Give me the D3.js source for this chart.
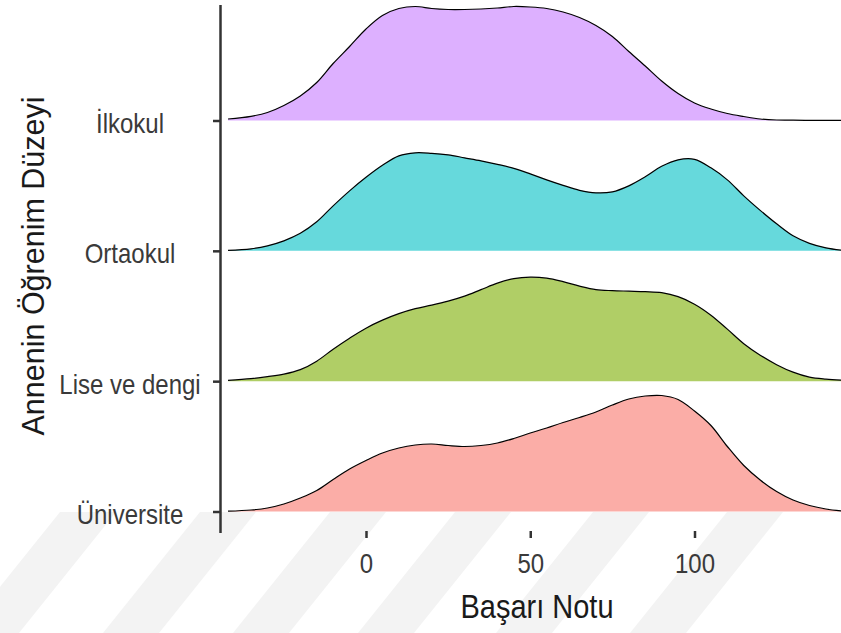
<!DOCTYPE html>
<html lang="tr">
    <head>
        <meta charset="UTF-8">
        <script src="https://d3js.org/d3.v7.min.js"></script>
        <style>
            body { margin: 0; background: #fff; }
            text { font-family: "Liberation Sans", Arial, sans-serif; }
            .ridge-line { fill: none; stroke: #000; stroke-width: 1.2; }
        </style>
    </head>
    <body>
        <svg width="841" height="633"></svg>

        <script>
            // categories, top to bottom
            const grades = ["İlkokul", "Ortaokul", "Lise ve dengi", "Üniversite"];
            const fills = ["#DDB0FF", "#66D9DC", "#B0CE66", "#FBADA7"];

            // x grid (Başarı Notu)
            const scores = [-42, -35, -30, -25, -20, -15, -10, -5, 0, 5, 10, 15, 20, 25, 30, 35, 40, 45, 50,
                55, 60, 65, 70, 75, 80, 85, 90, 95, 100, 105, 110, 115, 120, 125, 130, 135, 140, 145];

            // density estimates (x 10^-3)
            const ilkokul = [0.15, 0.42, 0.8, 1.5, 2.45, 3.8, 5.7, 7.4, 9.15, 10.5, 11.2, 11.4, 11.2, 11.1, 11.1, 11.15, 11.25, 11.4, 11.35,
                11.2, 10.85, 10.3, 9.5, 8.4, 6.9, 5.45, 3.95, 2.7, 1.75, 1.15, 0.7, 0.4, 0.15, 0.05, 0.03, 0.02, 0.01, 0.01];
            const ortaokul = [0.05, 0.2, 0.5, 1.0, 1.75, 2.9, 4.5, 6.0, 7.35, 8.55, 9.5, 9.8, 9.75, 9.6, 9.3, 9.0, 8.65, 8.25, 7.7,
                7.1, 6.55, 6.05, 5.8, 5.9, 6.5, 7.4, 8.45, 9.1, 9.15, 8.3, 7.1, 5.5, 4.05, 2.7, 1.5, 0.75, 0.3, 0.05];
            const lise = [0.08, 0.25, 0.45, 0.7, 1.15, 2.0, 3.2, 4.3, 5.3, 6.1, 6.75, 7.25, 7.6, 8.0, 8.5, 9.15, 9.8, 10.25, 10.4,
                10.3, 9.95, 9.5, 9.15, 9.05, 9.0, 8.95, 8.85, 8.45, 7.7, 6.6, 5.2, 3.75, 2.6, 1.65, 0.9, 0.4, 0.2, 0.1];
            const universite = [0.03, 0.15, 0.35, 0.75, 1.35, 2.1, 3.2, 4.25, 5.1, 5.85, 6.35, 6.65, 6.75, 6.6, 6.5, 6.6, 6.85, 7.3, 7.85,
                8.35, 8.9, 9.4, 9.95, 10.65, 11.25, 11.55, 11.6, 11.2, 10.05, 8.6, 6.5, 4.6, 3.15, 2.0, 1.15, 0.6, 0.25, 0.05];
            const densities = [ilkokul, ortaokul, lise, universite];

            const xTicks = [0, 50, 100];

            const svg = d3.select("svg");

            // faint background watermark stripes
            const stripeStarts = [60, 200, 330, 455, 593, 727];
            svg.append("g")
                .selectAll("path")
                .data(stripeStarts)
                .join("path")
                .attr("d", d => `M${d},512 L${d + 56},512 L${d + 56 - 97},633 L${d - 97},633 Z`)
                .attr("fill", "#f3f3f3");

            // scales
            const x = d3.scaleLinear().domain([0, 100]).range([366, 694.5]);
            const y = d3.scalePoint().domain(grades).range([120.5, 511.5]);
            const h = d3.scaleLinear().domain([0, 10]).range([0, 100]);

            const curve = d3.curveCatmullRom.alpha(0.5);

            // ridges
            const ridges = svg.append("g")
                .selectAll("g")
                .data(grades)
                .join("g")
                .attr("transform", d => `translate(0,${y(d)})`);

            ridges.append("path")
                .attr("fill", (d, i) => fills[i])
                .attr("d", (d, i) => d3.area()
                    .x(s => x(s))
                    .y0(0)
                    .y1((s, j) => -h(densities[i][j]))
                    .curve(curve)(scores));

            ridges.append("path")
                .attr("class", "ridge-line")
                .attr("d", (d, i) => d3.line()
                    .x(s => x(s))
                    .y((s, j) => -h(densities[i][j]))
                    .curve(curve)(scores));

            // y axis
            svg.append("line")
                .attr("x1", 220.5).attr("x2", 220.5)
                .attr("y1", 5).attr("y2", 533)
                .attr("stroke", "#333").attr("stroke-width", 2.5);

            const yAxis = svg.append("g")
                .attr("transform", "translate(220,0)")
                .call(d3.axisLeft(y).tickSize(7));
            yAxis.select(".domain").remove();
            yAxis.selectAll(".tick line").attr("stroke", "#333").attr("stroke-width", 2.5);
            yAxis.selectAll(".tick text")
                .attr("x", null).attr("dy", null)
                .attr("text-anchor", "middle")
                .attr("transform", "translate(-90,12) scale(1,1.15)")
                .attr("font-size", 24)
                .attr("fill", "#3a3a3a");

            // x axis
            const xAxis = svg.append("g")
                .attr("transform", "translate(0,531)")
                .call(d3.axisBottom(x).tickValues(xTicks).tickSize(7));
            xAxis.select(".domain").remove();
            xAxis.selectAll(".tick line").attr("stroke", "#333").attr("stroke-width", 2.5);
            xAxis.selectAll(".tick text")
                .attr("y", null).attr("dy", null)
                .attr("transform", "translate(0,42) scale(1,1.15)")
                .attr("font-size", 24)
                .attr("fill", "#3a3a3a");

            // axis titles
            svg.append("text")
                .attr("text-anchor", "middle")
                .attr("transform", "translate(537,618) scale(1,1.12)")
                .attr("font-size", 29)
                .attr("fill", "#1a1a1a")
                .text("Başarı Notu");

            svg.append("text")
                .attr("text-anchor", "middle")
                .attr("transform", "translate(44,266) rotate(-90)")
                .attr("font-size", 30.5)
                .attr("fill", "#1a1a1a")
                .text("Annenin Öğrenim Düzeyi");
        </script>
    </body>
</html>
